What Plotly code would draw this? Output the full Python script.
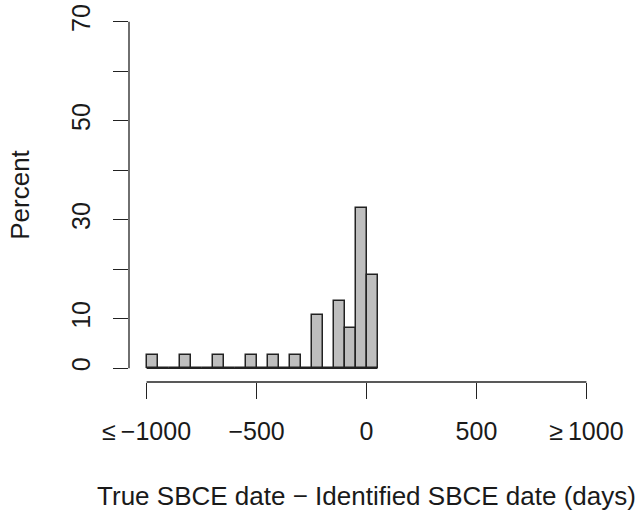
import plotly.graph_objects as go

# Data: histogram bins (left edges, days) and percentage in each bin
bin_left = [-1000, -950, -900, -850, -800, -750, -700, -650, -600, -550, -500,
            -450, -400, -350, -300, -250, -200, -150, -100, -50, 0]
bin_width = 50
percent = [2.7, 0, 0, 2.7, 0, 0, 2.7, 0, 0, 2.7, 0,
           2.7, 0, 2.7, 0, 10.8, 0, 13.5, 8.1, 32.4, 18.9]

x_tickvals = [-1000, -500, 0, 500, 1000]
x_ticktext = ["\u2264\u2009\u22121000", "\u2212500", "0", "500", "\u2265\u20091000"]
y_tickvals = [0, 10, 20, 30, 40, 50, 60, 70]
y_ticktext = ["0", "10", "", "30", "", "50", "", "70"]

x_title = "True SBCE date \u2212 Identified SBCE date (days)"
y_title = "Percent"

centers = [b + bin_width / 2 for b in bin_left]

FONT = "Liberation Sans, Arial, sans-serif"
AX = "#222222"

fig = go.Figure()
fig.add_trace(go.Bar(
    x=centers, y=percent, width=bin_width,
    marker=dict(color="#BEBEBE", line=dict(color="#222222", width=1.5)),
    hoverinfo="x+y",
))

# baseline under histogram (zero-height bins)
fig.add_shape(type="line", xref="x", yref="y",
              x0=bin_left[0], x1=bin_left[-1] + bin_width, y0=0, y1=0,
              line=dict(color="#222222", width=1.5), layer="below")
# R-style detached axis lines
fig.add_shape(type="line", xref="x", yref="paper",
              x0=x_tickvals[0], x1=x_tickvals[-1], y0=0, y1=0,
              line=dict(color=AX, width=1.3))
fig.add_shape(type="line", xref="paper", yref="y",
              x0=0, x1=0, y0=y_tickvals[0], y1=y_tickvals[-1],
              line=dict(color=AX, width=1.3))

fig.update_layout(
    width=642, height=514,
    margin=dict(l=129, r=38, t=4, b=132),
    paper_bgcolor="white", plot_bgcolor="white",
    showlegend=False,
    font=dict(family=FONT, size=25, color="#1a1a1a"),
    bargap=0,
    xaxis=dict(
        range=[-1080, 1080], showgrid=False, zeroline=False, showline=False,
        tickmode="array", tickvals=x_tickvals, ticktext=x_ticktext,
        ticks="outside", ticklen=16, tickwidth=1.3, tickcolor=AX,
        ticklabelstandoff=11,
        title=dict(text=x_title, standoff=42, font=dict(size=26)),
    ),
    yaxis=dict(
        range=[-2.8, 72.8], showgrid=False, zeroline=False, showline=False,
        tickmode="array", tickvals=y_tickvals, ticktext=y_ticktext,
        ticks="outside", ticklen=15, tickwidth=1.3, tickcolor=AX,
        tickangle=-90, ticklabelstandoff=13,
        title=dict(text=y_title, standoff=29, font=dict(size=26)),
    ),
)

fig.write_html("out.html")
